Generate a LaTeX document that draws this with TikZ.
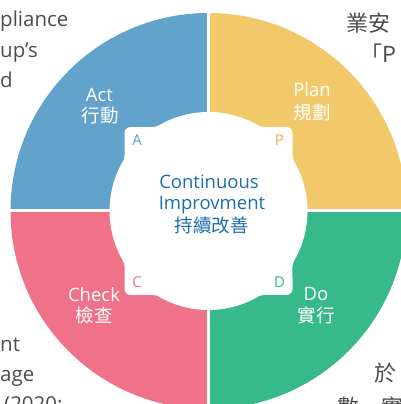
\documentclass[tikz,border=0pt]{standalone}
\usepackage{fontspec}
\setmainfont{Open Sans}
\newfontfamily\cjk{Noto Sans CJK TC}
\definecolor{actblue}{HTML}{62A2CB}
\definecolor{planyellow}{HTML}{F2C96A}
\definecolor{checkpink}{HTML}{F07288}
\definecolor{dogreen}{HTML}{37B98B}
\definecolor{centerblue}{HTML}{1B6FAE}
\definecolor{sidegray}{HTML}{4D4D4D}
\tikzset{
  lbl/.style={font=\fontsize{18.5}{22}\selectfont, text=white, anchor=base, inner sep=0pt},
  cjklbl/.style={font=\cjk\fontsize{18.5}{22}\selectfont, text=white, anchor=base, inner sep=0pt},
  corner/.style={font=\fontsize{15}{18}\selectfont, anchor=base, inner sep=0pt},
  ctext/.style={font=\fontsize{18.5}{22}\selectfont, text=centerblue, anchor=base, inner sep=0pt},
  cjkctext/.style={font=\cjk\fontsize{18.5}{22}\selectfont, text=centerblue, anchor=base, inner sep=0pt},
  sidetext/.style={font=\fontsize{20.5}{24}\selectfont, text=sidegray, anchor=base west, inner sep=0pt},
  cjkside/.style={font=\cjk\fontsize{22}{26}\selectfont, text=sidegray, anchor=base west, inner sep=0pt},
  divider/.style={white, line width=3pt}
}
\begin{document}
\begin{tikzpicture}[x=1pt,y=1pt]
\useasboundingbox (0,0) rectangle (401,404);
\clip (0,0) rectangle (401,404);
\begin{scope}[shift={(208.5,193)}]
  \fill[actblue] (0,0) -- (90:198) arc[start angle=90,end angle=180,radius=198] -- cycle;
  \fill[planyellow] (0,0) -- (0:198) arc[start angle=0,end angle=90,radius=198] -- cycle;
  \fill[dogreen] (0,0) -- (270:198) arc[start angle=270,end angle=360,radius=198] -- cycle;
  \fill[checkpink] (0,0) -- (180:198) arc[start angle=180,end angle=270,radius=198] -- cycle;
  \draw[divider] (0,-205) -- (0,205);
  \draw[divider] (-205,0) -- (205,0);
  \fill[white] (-30.13:99) \foreach \a in {0,90,180,270} {
      arc[start angle=\a-30.13, end angle=\a+30.13, radius=99]
      arc[start angle=\a+210.11, end angle=\a+180, radius=12]
      -- (\a+42.88:114.63)
      arc[start angle=\a, end angle=\a+90, radius=6]
      -- (\a+56.44:100.80)
      arc[start angle=\a+270, end angle=\a+239.89, radius=12]
    } -- cycle;
\end{scope}
% quadrant labels
\node[lbl] (act) at (99.5,302.3) {Act};
\node[cjklbl] (actzh) at (100,281) {行動};
\node[lbl] (plan) at (312,307.3) {Plan};
\node[cjklbl] (planzh) at (312,284.5) {規劃};
\node[lbl] (check) at (94,102.3) {Check};
\node[cjklbl] (checkzh) at (94,81) {檢查};
\node[lbl] (do) at (316,103.3) {Do};
\node[cjklbl] (dozh) at (316,81) {實行};
% corner letters
\node[corner, text=actblue] (la) at (137,258) {A};
\node[corner, text=planyellow!90!black] (lp) at (279.5,258) {P};
\node[corner, text=checkpink] (lc) at (137,116.3) {C};
\node[corner, text=dogreen] (ld) at (279.5,116.3) {D};
% centre
\node[ctext] (c1) at (209,215.7) {Continuous};
\node[ctext] (c2) at (212,194) {Improvment};
\node[cjkctext] (c3) at (211.7,171) {持續改善};
% cut-off surrounding text
\node[sidetext] (s1) at (0,377) {pliance};
\node[sidetext] (s2) at (0,346) {up’s};
\node[sidetext] (s3) at (0,316) {d};
\node[sidetext] (s4) at (0,52) {nt};
\node[sidetext] (s5) at (0,22) {age};
\node[sidetext] (s6) at (4,-8) {(2020;};
\node[cjkside] (r1) at (346,372.5) {業安};
\node[cjkside] (r2) at (360,341) {「P};
\node[cjkside] (r3) at (374,22.5) {於};
\node[cjkside] (r4) at (337,-11) {數一實};
\end{tikzpicture}
\end{document}
